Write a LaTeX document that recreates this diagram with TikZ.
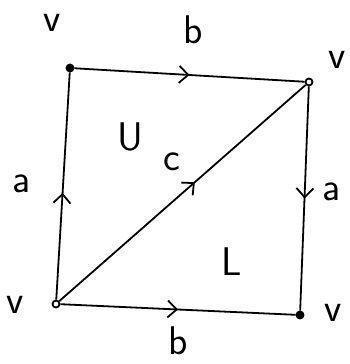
\documentclass[tikz,border=0pt]{standalone}
\usetikzlibrary{arrows.meta,decorations.markings}

\begin{document}
\begin{tikzpicture}[x=1pt, y=-1pt, line width=1.8pt, font=\fontsize{40}{40}\selectfont\sffamily,
	   pt/.style={draw, circle, line width=1.8pt, inner sep=0pt, minimum size=7pt},
	   ptf/.style={pt, fill=black},
	   lbl/.style={inner sep=0pt},
	   mid/.style={postaction={decorate, decoration={markings,
	     mark=at position #1 with {\arrow[line width=1.8pt]{Straight Barb[length=9pt, width=17pt]}}}}}]
	  \useasboundingbox (0,0) rectangle (349,364);
	  \node[ptf] (TL) at (70,68) {};
	  \node[pt] (TR) at (309,82) {};
	  \node[pt] (BL) at (56,304) {};
	  \node[ptf] (BR) at (300,315) {};
	  \node[lbl] (vTL) at (52,23) {v};
	  \node[lbl] (vTR) at (337,60) {v};
	  \node[lbl] (vBL) at (15,305) {v};
	  \node[lbl] (vBR) at (333,313) {v};
	  \node[lbl] (bT) at (193,30) {b};
	  \node[lbl] (bB) at (178,341) {b};
	  \node[lbl] (aL) at (22,184) {a};
	  \node[lbl] (aR) at (332,192) {a};
	  \node[lbl] (c) at (172,162) {c};
	  \node[lbl] (U) at (130,137) {U};
	  \node[lbl] (L) at (232,262) {L};
	  \draw[mid=0.5] (TL)--(TR); \draw[mid=0.5] (BL)--(BR); \draw[mid=0.47] (BL)--(TL);
	  \draw[mid=0.5] (TR)--(BR); \draw[mid=0.55] (BL)--(TR);
	\end{tikzpicture}
\end{document}
